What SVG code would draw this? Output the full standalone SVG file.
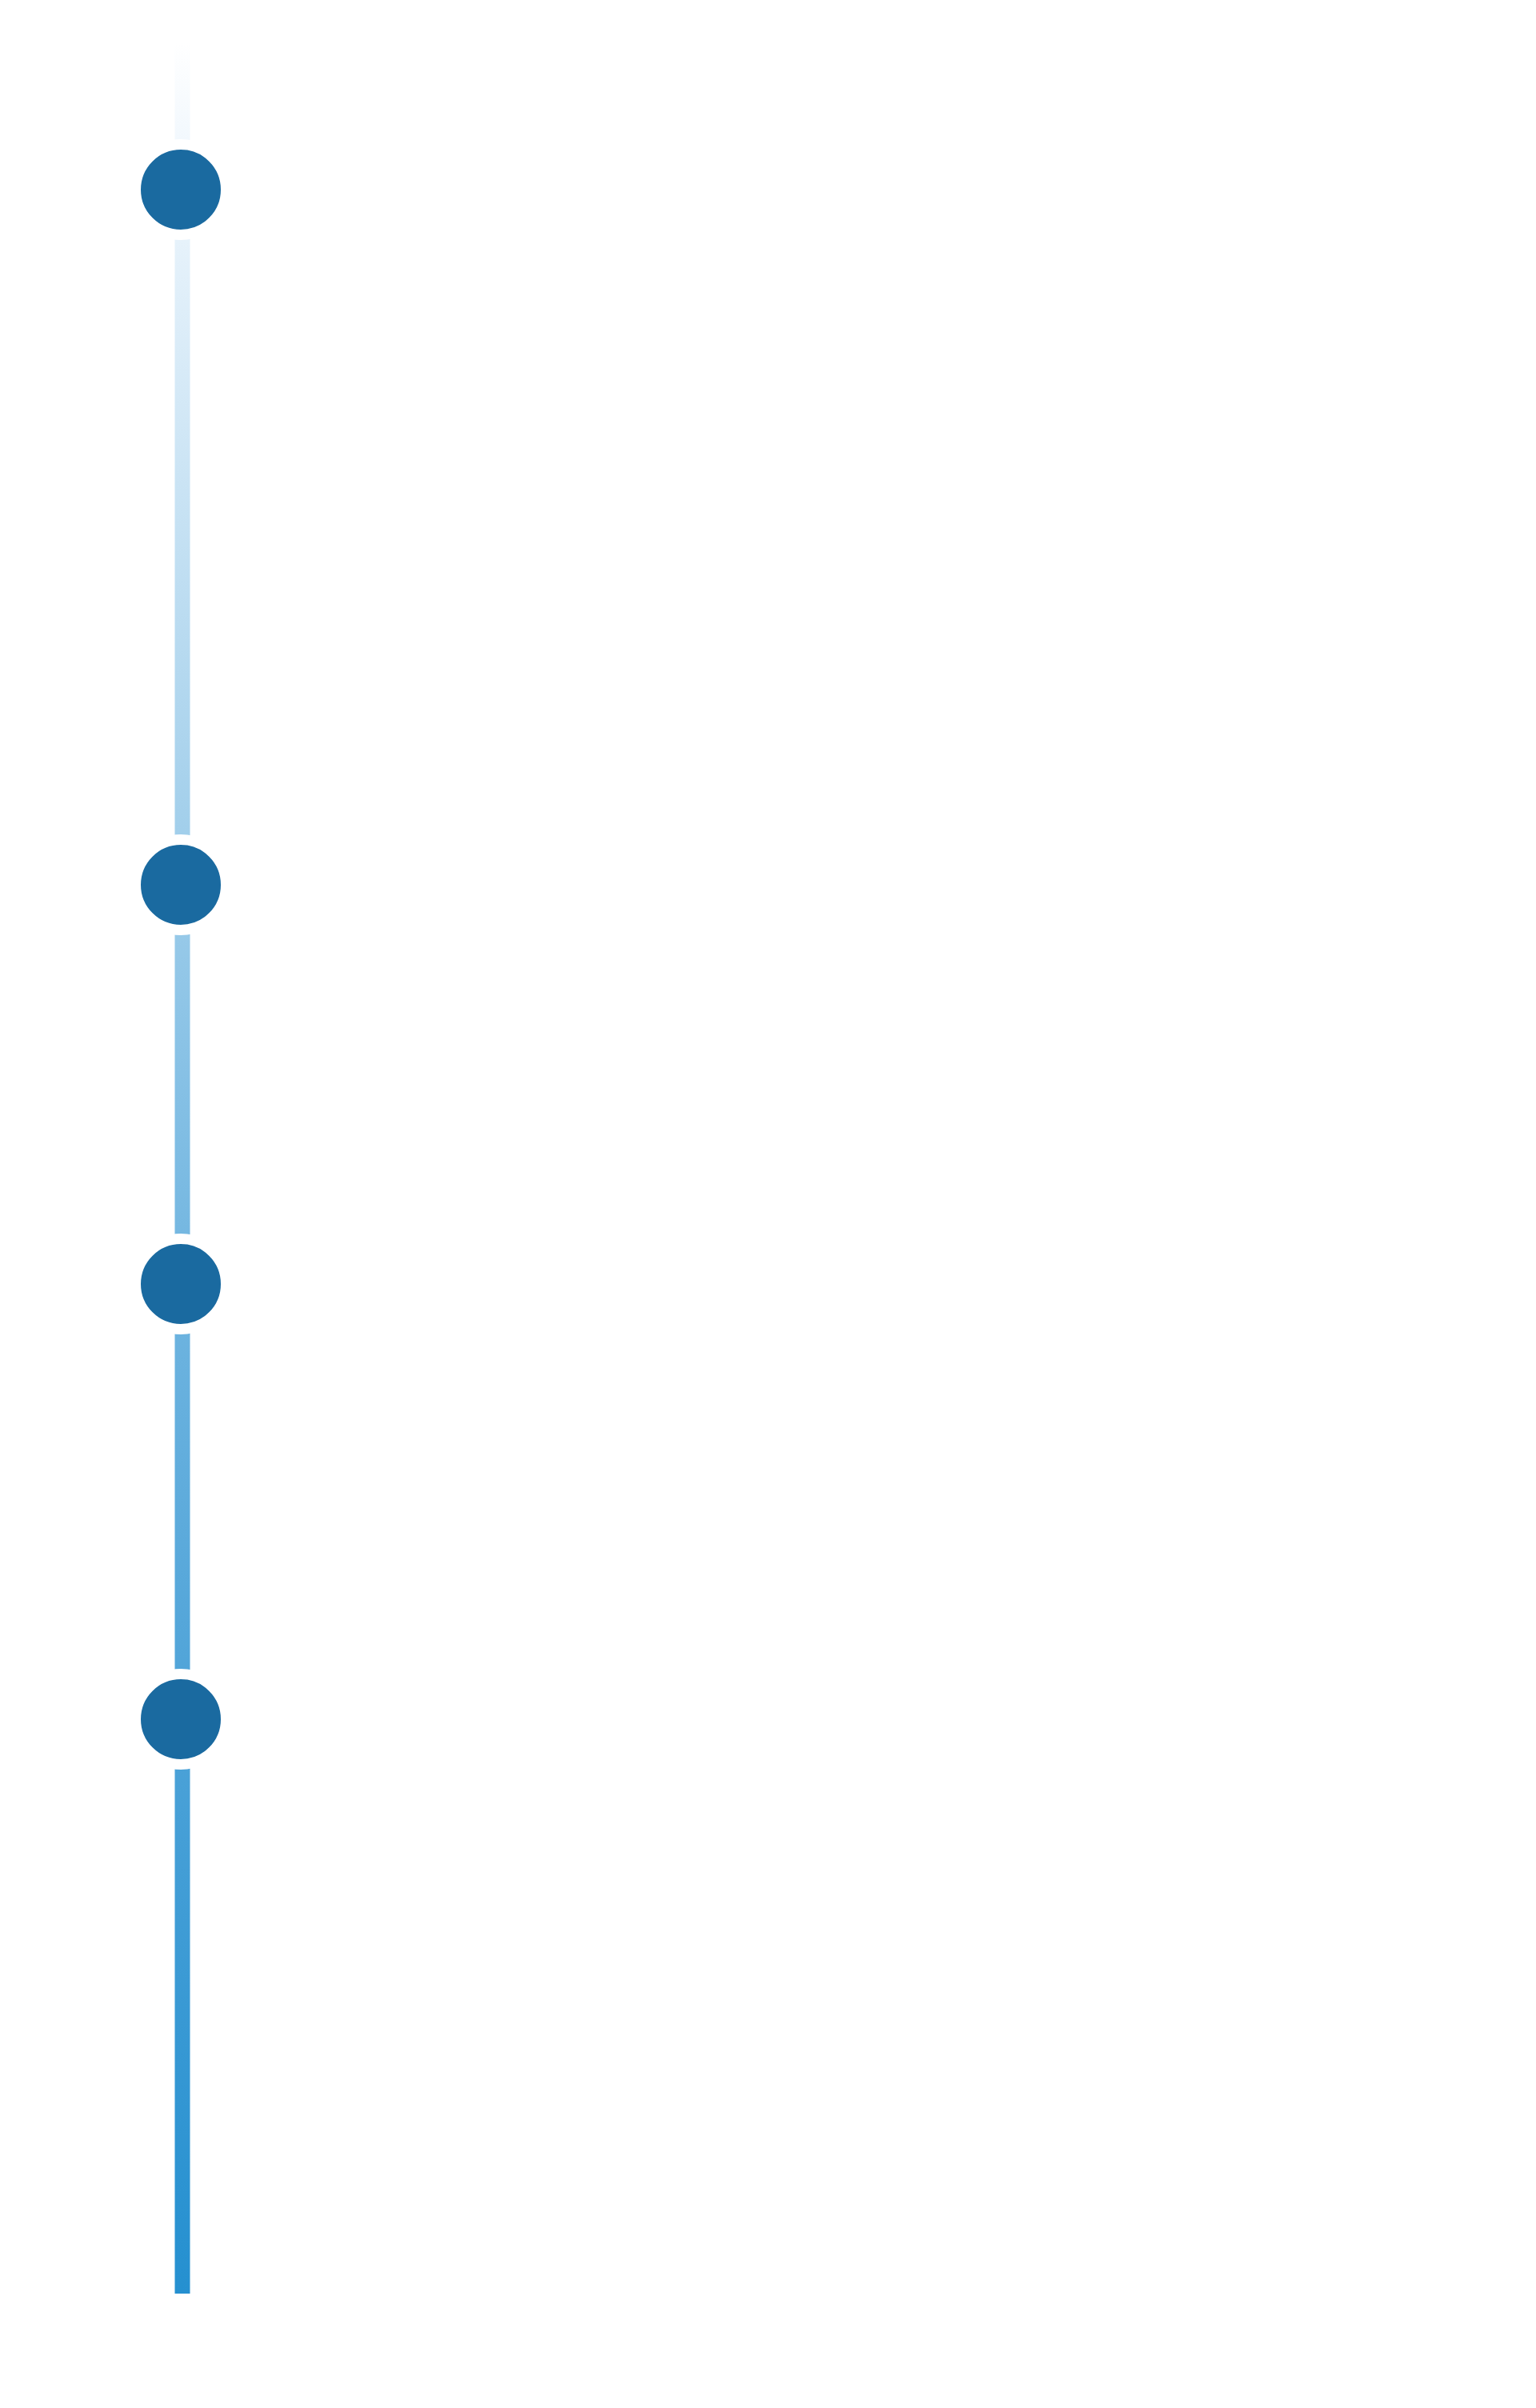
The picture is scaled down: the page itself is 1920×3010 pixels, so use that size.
<svg xmlns="http://www.w3.org/2000/svg" width="1920" height="3010" viewBox="0 0 1920 3010">
  <style>
    .dot { fill: #1a6aa0; stroke: #ffffff; stroke-width: 13; }
  </style>
  <defs>
    <linearGradient id="lineGrad" gradientUnits="userSpaceOnUse" x1="0" y1="53" x2="0" y2="2867">
      <stop offset="0" stop-color="#ffffff"/>
      <stop offset="0.05" stop-color="#f0f7fd"/>
      <stop offset="0.35" stop-color="#a2cfeb"/>
      <stop offset="0.55" stop-color="#70b5e0"/>
      <stop offset="0.74" stop-color="#4ea3d8"/>
      <stop offset="1" stop-color="#2590d0"/>
    </linearGradient>
  </defs>
  <rect width="1920" height="3010" fill="#ffffff"/>
  <g id="connectors">
    <rect x="218.5" y="53" width="19" height="2814" fill="url(#lineGrad)"/>
  </g>
  <g id="node1"><circle class="dot" cx="226" cy="237" r="56.5"/></g>
  <g id="node2"><circle class="dot" cx="226" cy="1106" r="56.5"/></g>
  <g id="node3"><circle class="dot" cx="226" cy="1605" r="56.5"/></g>
  <g id="node4"><circle class="dot" cx="226" cy="2149" r="56.5"/></g>
</svg>
